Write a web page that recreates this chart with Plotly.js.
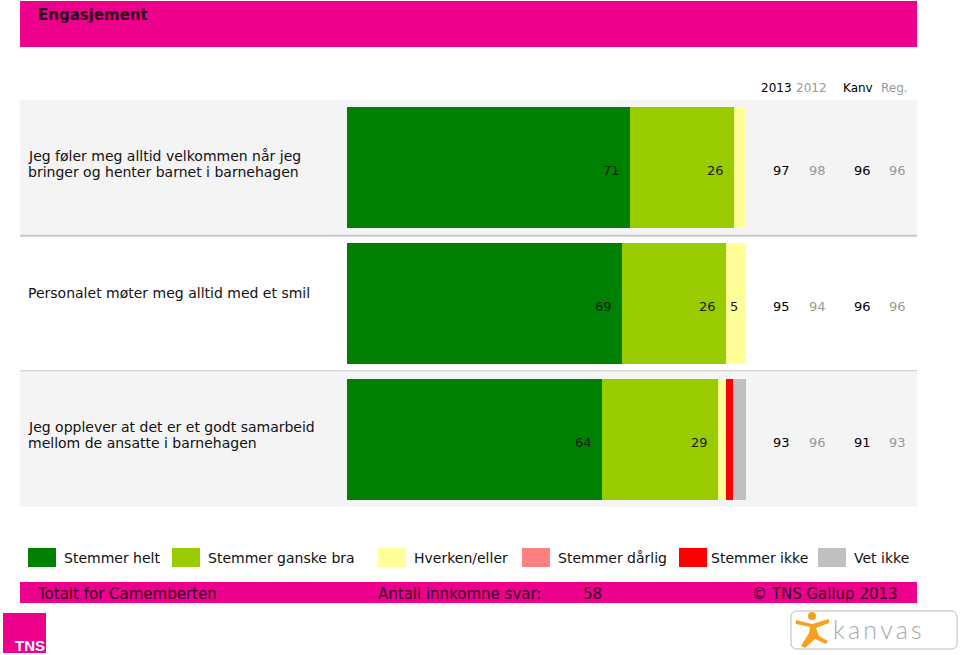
<!DOCTYPE html>
<html><head><meta charset="utf-8">
<script src="https://cdn.plot.ly/plotly-3.0.1.min.js"></script>
<style>html,body{margin:0;padding:0;background:#fff;overflow:hidden;} #chart{width:960px;height:655px;}</style>
</head><body><div id="chart"></div>
<script>
// ---------- DATA ----------
const pageTitle = "Engasjement";
const questions = [
  "Jeg føler meg alltid velkommen når jeg<br>bringer og henter barnet i barnehagen",
  "Personalet møter meg alltid med et smil",
  "Jeg opplever at det er et godt samarbeid<br>mellom de ansatte i barnehagen"
];
const seriesNames = ["Stemmer helt", "Stemmer ganske bra", "Hverken/eller", "Stemmer dårlig", "Stemmer ikke", "Vet ikke"];
const stemmerHelt      = [71, 69, 64];
const stemmerGanskeBra = [26, 26, 29];
const hverkenEller     = [3, 5, 2];
const stemmerDarlig    = [0, 0, 0];
const stemmerIkke      = [0, 0, 1.7];
const vetIkke          = [0, 0, 3.3];
const compHeaders = ["2013", "2012", "Kanv", "Reg."];
const val2013 = [97, 95, 93];
const val2012 = [98, 94, 96];
const valKanv = [96, 96, 91];
const valReg  = [96, 96, 93];
const footerLeft = "Totalt for Camemberten";
const footerMid = "Antall innkomne svar:";
const antallSvar = 58;
const footerRight = "© TNS Gallup 2013";

// ---------- STYLE / LAYOUT ----------
const seriesData = [stemmerHelt, stemmerGanskeBra, hverkenEller, stemmerDarlig, stemmerIkke, vetIkke];
const seriesColors = ["#008000", "#99CC00", "#FFFF99", "#FF8080", "#FF0000", "#C0C0C0"];
const W = 960, H = 655;
const px = x => x / W;
const py = y => 1 - y / H;
const FONT = "DejaVu Sans, Verdana, sans-serif";
const MAGENTA = "#EC008C";
const AX = -2; // annotation text offset compensation

const traces = seriesData.map((vals, i) => ({
  type: "bar", orientation: "h",
  y: questions, x: vals, name: seriesNames[i],
  marker: {color: seriesColors[i], line: {width: 0}},
  width: 0.89, hoverinfo: "skip", showlegend: false
}));

const shapes = [];
const annotations = [];

// header band
shapes.push({type: "rect", xref: "paper", yref: "paper", x0: px(20), x1: px(917), y0: py(47), y1: py(1), fillcolor: MAGENTA, line: {width: 0}, layer: "below"});
annotations.push({xref: "paper", yref: "paper", x: px(38 + AX), y: py(14.5), xanchor: "left", yanchor: "middle", showarrow: false,
  text: "<b>" + pageTitle + "</b>", font: {family: FONT, size: 15, color: "#2a0018"}});

// row bands
questions.forEach((q, i) => {
  if (i % 2 === 0) {
    shapes.push({type: "rect", xref: "paper", yref: "y", x0: px(20), x1: px(917), y0: i - 0.5, y1: i + 0.5, fillcolor: "#F4F4F4", line: {width: 0}, layer: "below"});
  }
  if (i < questions.length - 1) {
    shapes.push({type: "line", xref: "paper", yref: "y", x0: px(20), x1: px(917), y0: i + 0.5, y1: i + 0.5, line: {color: "#C8C8C8", width: 2}, layer: "below"});
  }
});

// row labels (one annotation per line to control line spacing)
const labelShift = [4, 11, 4];
questions.forEach((q, i) => {
  const lines = q.split("<br>");
  lines.forEach((ln, k) => {
    annotations.push({xref: "paper", yref: "y", x: px(28 + AX), y: q, xanchor: "left", yanchor: "middle", align: "left",
      showarrow: false, text: ln, yshift: labelShift[i] - (k - (lines.length - 1) / 2) * 16,
      font: {family: FONT, size: 14, color: "#111"}});
  });
});

// inside bar labels
questions.forEach((q, i) => {
  let cum = 0;
  seriesData.forEach((vals, s) => {
    const v = vals[i];
    cum += v;
    if (v >= 5) {
      const big = v >= 10;
      annotations.push({xref: "x", yref: "y", x: big ? cum : cum - v / 2, y: q,
        xanchor: big ? "right" : "center", xshift: big ? -8 : -2, yshift: -3, showarrow: false,
        text: String(v), font: {family: FONT, size: 13, color: "#1a1a1a"}});
    }
  });
});

// comparison columns
const compVals = [val2013, val2012, valKanv, valReg];
const compX = [781, 817, 862, 897];
const compHeadX = [776.5, 811.5, 857.5, 894.5];
const compColors = ["#000", "#999", "#000", "#999"];
compHeaders.forEach((h, c) => {
  annotations.push({xref: "paper", yref: "paper", x: px(compHeadX[c]), y: py(88), xanchor: "center", yanchor: "middle",
    showarrow: false, text: h, font: {family: FONT, size: 12, color: compColors[c]}});
  questions.forEach((q, i) => {
    annotations.push({xref: "paper", yref: "y", x: px(compX[c]), y: q, xanchor: "center", yanchor: "middle", yshift: -3,
      showarrow: false, text: String(compVals[c][i]), font: {family: FONT, size: 13, color: compColors[c]}});
  });
});

// legend
const legBoxX = [28, 172, 378, 522, 679, 818];
const legTextX = [64, 208, 414, 558, 711, 854];
seriesNames.forEach((n, s) => {
  shapes.push({type: "rect", xref: "paper", yref: "paper", x0: px(legBoxX[s]), x1: px(legBoxX[s] + 28), y0: py(567), y1: py(548), fillcolor: seriesColors[s], line: {width: 0}});
  annotations.push({xref: "paper", yref: "paper", x: px(legTextX[s] + AX), y: py(557.5), xanchor: "left", yanchor: "middle",
    showarrow: false, text: n, font: {family: FONT, size: 14, color: "#111"}});
});

// footer band
shapes.push({type: "rect", xref: "paper", yref: "paper", x0: px(20), x1: px(917), y0: py(603), y1: py(582), fillcolor: MAGENTA, line: {width: 0}});
[[37, footerLeft], [378, footerMid], [583, String(antallSvar)], [752, footerRight]].forEach(([x, t]) => {
  annotations.push({xref: "paper", yref: "paper", x: px(x + AX), y: py(594), xanchor: "left", yanchor: "middle",
    showarrow: false, text: t, font: {family: FONT, size: 15, color: "#330022"}});
});

// TNS logo
shapes.push({type: "rect", xref: "paper", yref: "paper", x0: px(3), x1: px(46), y0: py(653), y1: py(613), fillcolor: MAGENTA, line: {width: 0}});
annotations.push({xref: "paper", yref: "paper", x: px(13), y: py(645), xanchor: "left", yanchor: "middle",
  showarrow: false, text: "<b>TNS</b>", font: {family: "Liberation Sans Narrow, Liberation Sans, sans-serif", size: 15, color: "#fff"}});

// Kanvas logo
function pathPx(pts) { return pts.map((p, k) => (k ? "L" : "M") + px(p[0]) + "," + py(p[1])).join(" "); }
function rrect(x0, y0, x1, y1, r) {
  return "M" + px(x0 + r) + "," + py(y0) + " L" + px(x1 - r) + "," + py(y0) +
    " Q" + px(x1) + "," + py(y0) + " " + px(x1) + "," + py(y0 + r) +
    " L" + px(x1) + "," + py(y1 - r) + " Q" + px(x1) + "," + py(y1) + " " + px(x1 - r) + "," + py(y1) +
    " L" + px(x0 + r) + "," + py(y1) + " Q" + px(x0) + "," + py(y1) + " " + px(x0) + "," + py(y1 - r) +
    " L" + px(x0) + "," + py(y0 + r) + " Q" + px(x0) + "," + py(y0) + " " + px(x0 + r) + "," + py(y0) + " Z";
}
shapes.push({type: "path", xref: "paper", yref: "paper", path: rrect(791, 611, 957, 649, 6), fillcolor: "#fff", line: {color: "#bbb", width: 1}});
const orange = "#F4A21E";
shapes.push({type: "circle", xref: "paper", yref: "paper", x0: px(808), x1: px(816), y0: py(620), y1: py(612), fillcolor: orange, line: {width: 0}});
shapes.push({type: "path", xref: "paper", yref: "paper",
  path: pathPx([[796, 620], [812, 624], [829, 619], [829, 623], [816, 628], [819, 636], [828, 641], [826, 644], [815, 639], [805, 648], [801, 646], [809, 633], [810, 627], [796, 624]]) + " Z",
  fillcolor: orange, line: {width: 0}});
annotations.push({xref: "paper", yref: "paper", x: px(831), y: py(629), xanchor: "left", yanchor: "middle",
  showarrow: false, text: "k\u2009a\u2009n\u2009v\u2009a\u2009s", font: {family: "DejaVu Sans ExtraLight, Lato, DejaVu Sans, sans-serif", size: 25, color: "#a8a8a8", weight: 300}});

const layout = {
  width: W, height: H,
  margin: {l: 0, r: 0, t: 0, b: 0, pad: 0},
  paper_bgcolor: "#fff", plot_bgcolor: "rgba(0,0,0,0)",
  barmode: "stack", showlegend: false,
  xaxis: {domain: [px(347), px(746)], range: [0, 100], visible: false, fixedrange: true},
  yaxis: {domain: [py(507), py(100)], type: "category", range: [2.5, -0.5], visible: false, fixedrange: true},
  shapes: shapes, annotations: annotations,
  font: {family: FONT}
};

Plotly.newPlot("chart", traces, layout, {displayModeBar: false, staticPlot: true});
</script>
</body></html>
